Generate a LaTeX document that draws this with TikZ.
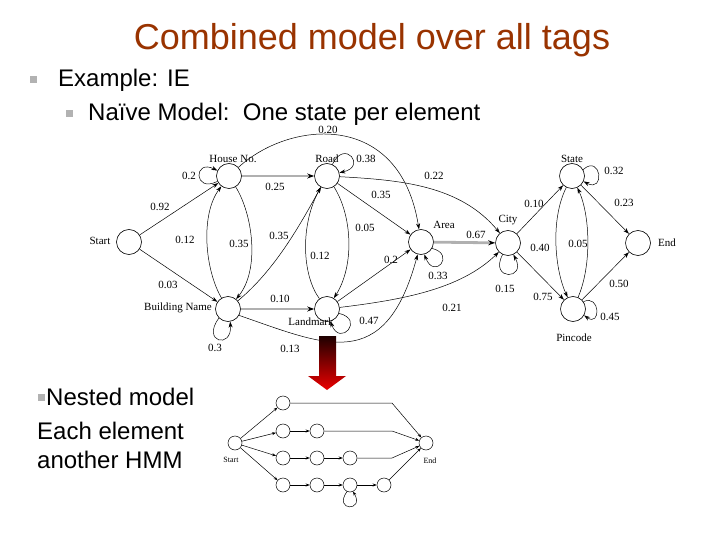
\documentclass[tikz,border=0pt]{standalone}
\usepackage{fontspec}
\setmainfont{Liberation Sans}
\newfontfamily\serifd{Liberation Serif}
\usetikzlibrary{arrows.meta}
\definecolor{titlec}{HTML}{993300}
\definecolor{bulc}{HTML}{B2B2B2}
\definecolor{thickg}{HTML}{B0B0B0}
\definecolor{arrtop}{RGB}{30,0,0}
\definecolor{arrbot}{RGB}{235,0,0}
\begin{document}
\begin{tikzpicture}[x=1pt,y=-1pt,
  st/.style={circle,draw,line width=0.6pt,minimum size=25pt,inner sep=0pt},
  sst/.style={circle,draw,line width=0.5pt,minimum size=14pt,inner sep=0pt},
  lab/.style={font=\serifd\fontsize{11}{12}\selectfont,inner sep=0pt},
  slab/.style={font=\serifd\fontsize{8}{9}\selectfont,inner sep=0pt},
  ed/.style={draw,line width=0.5pt,-{Stealth[length=6pt 0,width=4pt 0]}},
  ged/.style={draw=thickg,line width=2.8pt,-{Stealth[length=7pt 0,width=5pt 0,color=black]}},
  sed/.style={draw,line width=0.5pt,-{Stealth[length=4pt 0,width=3pt 0]}},
  big/.style={font=\fontsize{24}{28}\selectfont,inner sep=0pt,anchor=base west},
  bul/.style={fill=bulc,minimum size=7pt,inner sep=0pt}
]
\useasboundingbox (0,0) rectangle (720,540);
% title and text
\node[font=\fontsize{36}{40}\selectfont,text=titlec,anchor=base,inner sep=0pt] (title) at (372,50) {Combined model over all tags};
\node[bul] (bu1) at (33,80) {};
\node[big] (t1) at (58,87) {Example: IE};
\node[bul] (bu2) at (69,114) {};
\node[big] (t2) at (88,121) {Naïve Model:\ \ One state per element};
\node[bul] (bu3) at (41,397) {};
\node[big] (t3) at (46,405) {Nested model};
\node[big] (t4) at (37,439) {Each element};
\node[big] (t5) at (37,468) {another HMM};

% states
\node[st] (st) at (129,242) {};
\node[st] (hn) at (229,176) {};
\node[st] (rd) at (327,176) {};
\node[st] (bn) at (228,309) {};
\node[st] (lm) at (327,309) {};
\node[st] (ar) at (421,242) {};
\node[st] (ct) at (508,243) {};
\node[st] (sa) at (572,176) {};
\node[st] (en) at (638,243) {};
\node[st] (pc) at (573,309) {};
% state names
\node[lab] (nst) at (100,241) {Start};
\node[lab] (nhn) at (233,159) {House No.};
\node[lab] (nrd) at (327,159) {Road};
\node[lab] (nbn) at (178,308) {Building Name};
\node[lab] (nlm) at (311,322) {Landmark};
\node[lab] (nar) at (444,225) {Area};
\node[lab] (nct) at (508,220) {City};
\node[lab] (nsa) at (572,159) {State};
\node[lab] (nen) at (667,243) {End};
\node[lab] (npc) at (574,338) {Pincode};

% edges
\draw[ed] (st) -- (hn);
\draw[ed] (st) -- (bn);
\draw[ed] (hn.205) .. controls +(-24,12) and +(-24,-12) .. (hn.155);
\draw[ged] (hn) -- (rd);
\draw[ed] (hn) .. controls (290,120) and (400,110) .. (ar);
\draw[ed] (hn) .. controls (253,215) and (260,270) .. (bn);
\draw[ed] (bn) .. controls (205,270) and (200,215) .. (hn);
\draw[ed] (bn) .. controls (275,270) and (300,225) .. (rd);
\draw[ged] (bn) -- (lm);
\draw[ed] (bn.225) .. controls +(-18,24) and +(2,28) .. (bn.280);
\draw[ed] (bn.330) .. controls (325,345) and (385,375) .. (ar);
\draw[ed] (rd.65) .. controls +(12,-26) and +(28,-6) .. (rd.15);
\draw[ed] (rd) .. controls (352,215) and (355,265) .. (lm);
\draw[ed] (lm) .. controls (302,275) and (300,225) .. (rd);
\draw[ed] (rd) -- (ar);
\draw[ed] (rd) .. controls (400,180) and (460,185) .. (ct);
\draw[ed] (lm) -- (ar);
\draw[ed] (lm.340) .. controls +(26,6) and +(10,26) .. (lm.285);
\draw[ed] (lm) .. controls (400,300) and (460,290) .. (ct);
\draw[ged] (ar) -- (ct);
\draw[ed] (ar.330) .. controls +(24,6) and +(10,26) .. (ar.285);
\draw[ed] (ct.245) .. controls +(-14,26) and +(14,26) .. (ct.295);
\draw[ed] (ct) -- (sa);
\draw[ed] (ct) -- (pc);
\draw[ed] (sa.30) .. controls +(18,-16) and +(22,12) .. (sa.-25);
\draw[ed] (sa) -- (en);
\draw[ed] (sa) .. controls (550,220) and (555,270) .. (pc);
\draw[ed] (pc) .. controls (592,265) and (590,215) .. (sa);
\draw[ed] (pc) -- (en);
\draw[ed] (pc.35) .. controls +(17,-8) and +(17,12) .. (pc.-30);

% edge labels
\node[lab] (l01) at (189,176) {0.2};
\node[lab] (l02) at (160,207) {0.92};
\node[lab] (l03) at (275,187) {0.25};
\node[lab] (l04) at (185,240) {0.12};
\node[lab] (l05) at (239,244) {0.35};
\node[lab] (l06) at (279,236) {0.35};
\node[lab] (l07) at (320,256) {0.12};
\node[lab] (l08) at (365,228) {0.05};
\node[lab] (l09) at (168,285) {0.03};
\node[lab] (l10) at (280,299) {0.10};
\node[lab] (l11) at (215,348) {0.3};
\node[lab] (l12) at (290,349) {0.13};
\node[lab] (l13) at (328,130) {0.20};
\node[lab] (l14) at (366,159) {0.38};
\node[lab] (l15) at (434,176) {0.22};
\node[lab] (l16) at (381,195) {0.35};
\node[lab] (l17) at (391,260) {0.2};
\node[lab] (l18) at (476,235) {0.67};
\node[lab] (l19) at (438,276) {0.33};
\node[lab] (l20) at (369,321) {0.47};
\node[lab] (l21) at (452,308) {0.21};
\node[lab] (l22) at (505,289) {0.15};
\node[lab] (l23) at (534,204) {0.10};
\node[lab] (l24) at (540,248) {0.40};
\node[lab] (l25) at (578,244) {0.05};
\node[lab] (l26) at (614,171) {0.32};
\node[lab] (l27) at (624,203) {0.23};
\node[lab] (l28) at (543,297) {0.75};
\node[lab] (l29) at (619,284) {0.50};
\node[lab] (l30) at (610,317) {0.45};

% red arrow
\shade[top color=arrtop,bottom color=arrbot]
  (319,336) -- (336,336) -- (336,376) -- (346,376) -- (327,390) -- (308,376) -- (319,376) -- cycle;

% nested model
\node[sst] (s0) at (235,443) {};
\node[sst] (e0) at (426,443) {};
\node[sst] (a1) at (283,403) {};
\node[sst] (b1) at (283,431) {};
\node[sst] (b2) at (317,431) {};
\node[sst] (c1) at (283,458) {};
\node[sst] (c2) at (317,458) {};
\node[sst] (c3) at (350,458) {};
\node[sst] (d1) at (283,485) {};
\node[sst] (d2) at (317,485) {};
\node[sst] (d3) at (350,485) {};
\node[sst] (d4) at (384,485) {};
\node[slab] (ns0) at (231,460) {Start};
\node[slab] (ne0) at (430,461) {End};
\coordinate (ka) at (392,403);
\coordinate (kb) at (392,431);
\coordinate (kc) at (392,458);
\draw[sed] (s0) -- (a1);
\draw[sed] (s0) -- (b1);
\draw[sed] (s0) -- (c1);
\draw[sed] (s0) -- (d1);
\draw[sed] (b1) -- (b2);
\draw[sed] (c1) -- (c2);
\draw[sed] (c2) -- (c3);
\draw[sed] (d1) -- (d2);
\draw[sed] (d2) -- (d3);
\draw[sed] (d3) -- (d4);
\draw[sed] (a1) -- (ka) -- (e0);
\draw[sed] (b2) -- (kb) -- (e0);
\draw[sed] (c3) -- (kc) -- (e0);
\draw[sed] (d4) -- (e0);
\draw[sed] (d3.245) .. controls +(-14,20) and +(12,20) .. (d3.295);
\end{tikzpicture}
\end{document}
